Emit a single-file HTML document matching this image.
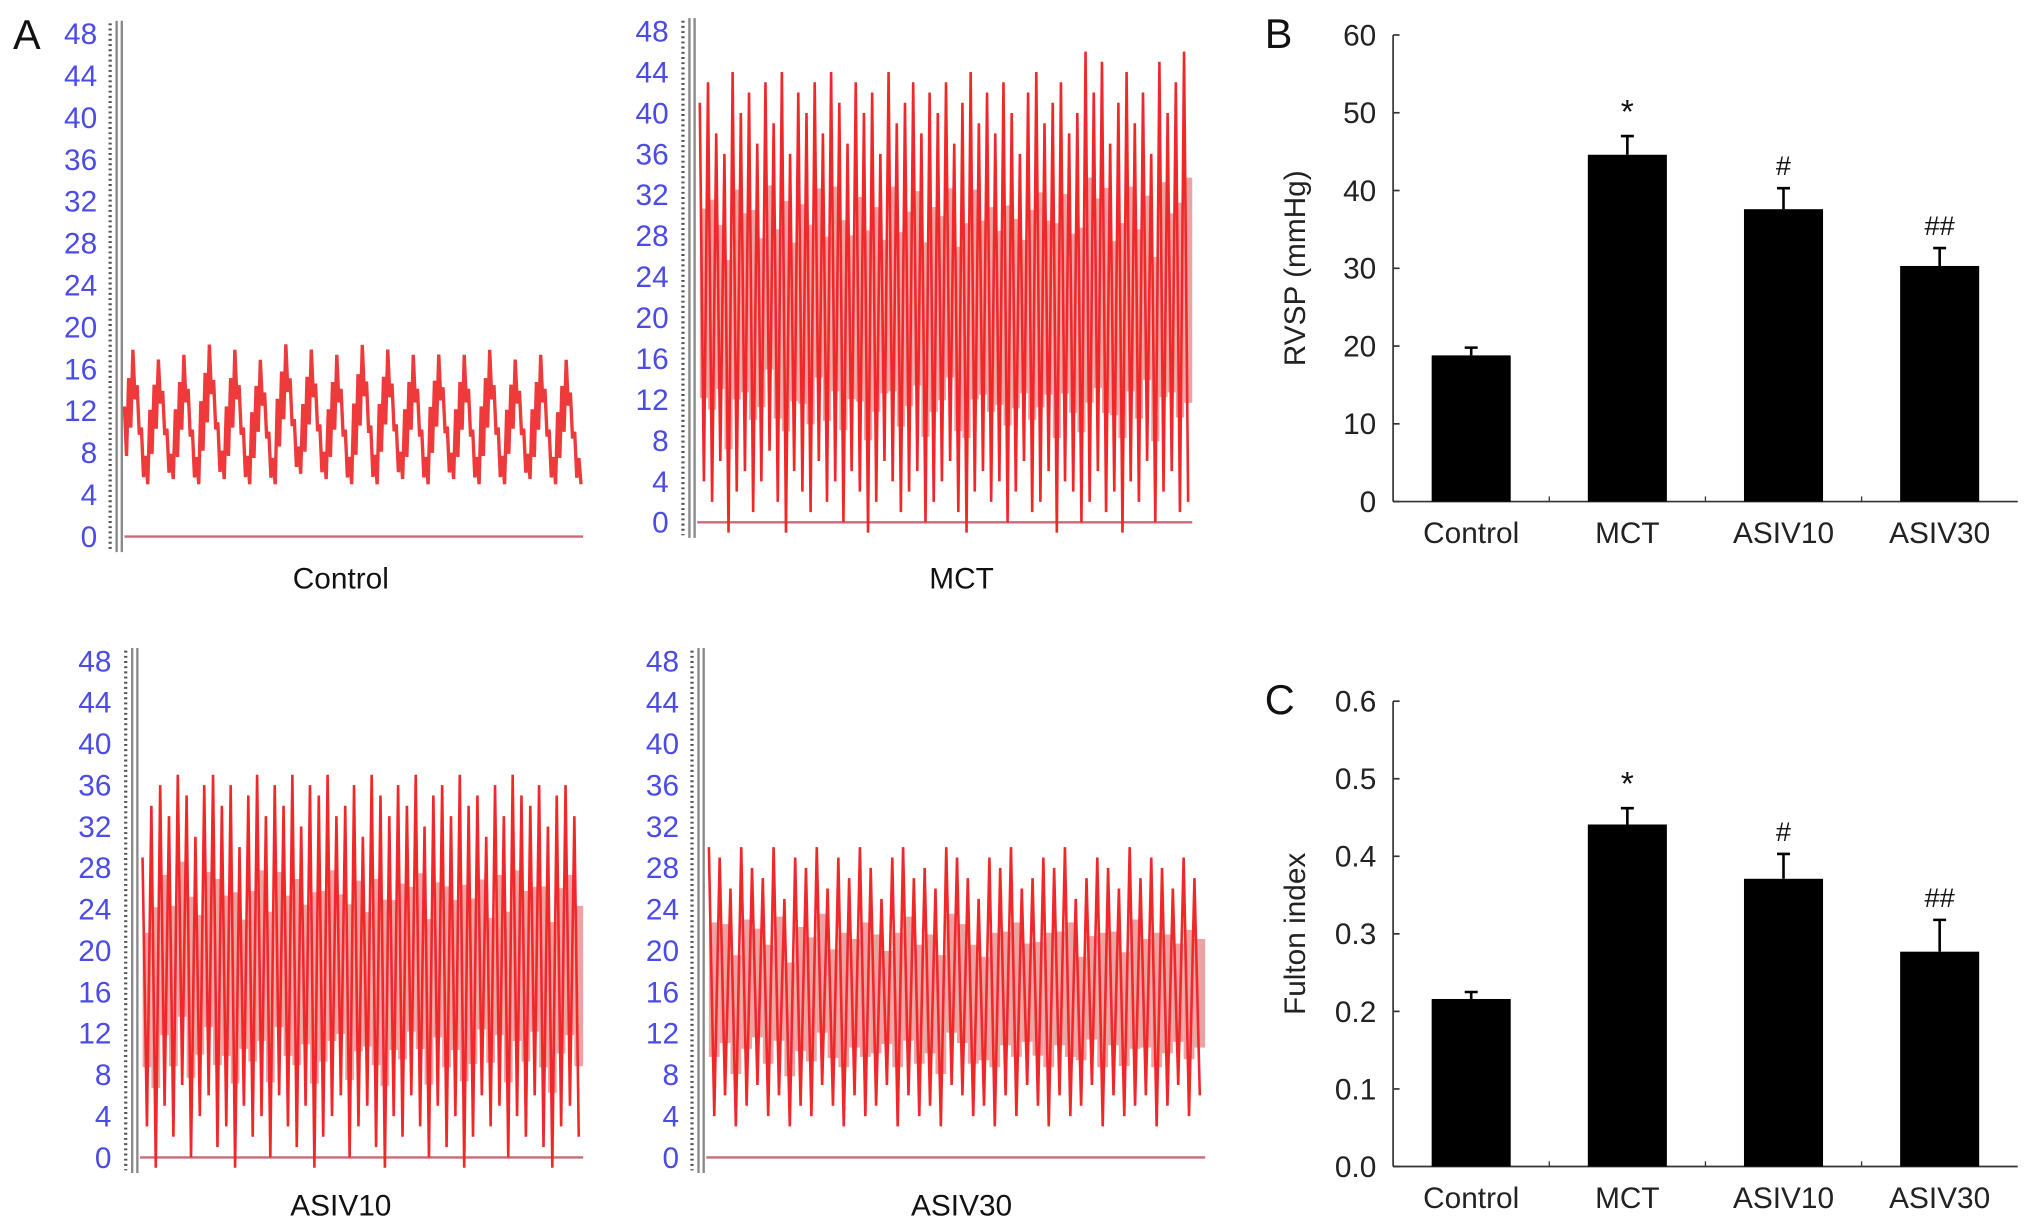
<!DOCTYPE html>
<html><head><meta charset="utf-8"><style>
html,body{margin:0;padding:0;background:#fff}
svg{display:block}
text{font-family:"Liberation Sans",Arial,sans-serif}
</style></head><body>
<svg id="fig" width="2032" height="1230" viewBox="0 0 1568 949" preserveAspectRatio="none" xmlns="http://www.w3.org/2000/svg">
<g id="panelA"></g>
<g id="panelB"></g>
<g id="panelC"></g>
</svg>
<script>
// ---- data: panel A traces (mmHg, per beat systolic/diastolic) ----
const traceTicks = [0,4,8,12,16,20,24,28,32,36,40,44,48];
const controlCycleMax = [18.5,17.5,18,19,18.5,17.5,19,18.5,18,19,18.5,18,18,18,18.5,17.5,18,17.5];
const controlCycleMin = [5,5.5,5,5.5,5,5,6,5.5,5,5,5.5,5,5.5,5,5,5.5,5,5];
const mctHigh = [41,43,38,36,44,40,42,37,43,39,44,36,42,40,43,38,44,41,37,43,40,42,36,44,39,41,43,38,42,40,43,37,41,44,39,42,38,43,40,36,42,44,39,41,43,38,40,46,42,45,37,41,44,39,42,36,45,40,43,46];
const mctLow = [4,2,6,-1,3,5,1,4,7,2,-1,5,3,1,6,2,4,0,5,3,-1,2,6,4,1,3,5,0,2,4,6,1,-1,3,5,2,4,0,3,6,1,2,5,-1,4,3,0,2,5,1,3,-1,4,2,6,0,3,5,1,2];
const a10High = [29,34,36,33,37,35,31,36,37,34,36,30,35,37,33,36,34,37,32,36,35,37,33,34,36,31,37,35,33,36,34,37,32,35,36,33,37,34,35,31,36,33,37,35,34,36,32,35,36,33];
const a10Low = [3,-1,5,2,7,0,4,6,1,3,-1,5,2,4,0,6,3,1,5,-1,2,4,6,0,3,5,1,-1,4,2,6,3,0,5,1,4,-1,2,6,3,5,0,4,2,6,1,-1,3,5,2];
const a30High = [30,29,26,30,28,27,30,25,29,28,30,26,29,27,30,28,25,29,30,27,28,26,30,29,27,25,29,28,30,26,27,29,28,30,25,27,29,28,26,30,27,29,28,26,29,27];
const a30Low = [4,6,3,5,7,4,6,3,5,4,7,5,3,6,4,5,7,3,6,4,5,3,7,6,4,5,3,6,4,7,5,3,6,4,5,7,3,6,4,5,6,3,5,7,4,6];

// ---- data: panel B / C bars ----
const groups = ["Control","MCT","ASIV10","ASIV30"];
const rvspValues = [18.8,44.6,37.6,30.3];
const rvspErrors = [1.0,2.4,2.7,2.3];
const rvspMarks = ["","*","#","##"];
const rvspTicks = [0,10,20,30,40,50,60];
const fultonValues = [0.216,0.441,0.371,0.277];
const fultonErrors = [0.009,0.021,0.032,0.041];
const fultonMarks = ["","*","#","##"];
const fultonTicks = [0,0.1,0.2,0.3,0.4,0.5,0.6];

const NS="http://www.w3.org/2000/svg";
function mk(parent,tag,attrs,txt){const e=document.createElementNS(NS,tag);for(const k in attrs)e.setAttribute(k,attrs[k]);if(txt!==undefined)e.textContent=txt;parent.appendChild(e);return e;}

function tracePanel(name,cfg){
  const A=document.getElementById('panelA');
  const g=mk(A,'g',{});
  
  
  const y=v=>cfg.y0+(v/48)*(cfg.y48-cfg.y0);
  traceTicks.forEach(t=>{
    const tl=mk(g,'text',{x:cfg.labelX,y:y(t)+8,'text-anchor':'end','font-size':23,fill:'#4b4be6'},String(t));
    
    
  });
  const dots=mk(g,'line',{x1:cfg.axisX-6,x2:cfg.axisX-6,y1:y(48)-8,y2:y(0)+10,stroke:'#555','stroke-width':2.5,'stroke-dasharray':'1.5 2.5'});
  
  
  mk(g,'line',{x1:cfg.axisX-1,x2:cfg.axisX-1,y1:y(48)-10,y2:y(0)+12,stroke:'#888','stroke-width':1.8});
  mk(g,'line',{x1:cfg.axisX+3,x2:cfg.axisX+3,y1:y(48)-10,y2:y(0)+12,stroke:'#888','stroke-width':1.8});
  const base=mk(g,'line',{x1:cfg.axisX+5,x2:cfg.x1,y1:y(0),y2:y(0),stroke:'#c86a7a','stroke-width':1.8});
  
  
  const cap=mk(g,'text',{x:cfg.capX,y:cfg.capY,'text-anchor':'middle','font-size':23,fill:'#111'},cfg.caption);
  
  
  return {g,y};
}

function drawBeats(p,cfg,hi,lo){
  const n=hi.length, dx=(cfg.x1-cfg.x0)/n;
  let pts=[];
  for(let i=0;i<n;i++){
    const xa=cfg.x0+i*dx;
    pts.push(xa+','+p.y(hi[i]));
    pts.push((xa+dx*0.5)+','+p.y(lo[i]));
  }
  const mid=mk(p.g,'g',{});
  for(let i=0;i<n;i++){
    const xa=cfg.x0+i*dx;
    const mlo=lo[i]+(hi[i]-lo[i])*0.22, mhi=lo[i]+(hi[i]-lo[i])*0.72;
    mk(mid,'rect',{x:xa,y:p.y(mhi),width:dx,height:p.y(mlo)-p.y(mhi),fill:'#eca3a3'});
  }
  const pl=mk(p.g,'polyline',{points:pts.join(' '),fill:'none',stroke:'#f0282a','stroke-width':2});
  
  
}

function drawControl(p,cfg){
  const n=controlCycleMax.length, cw=(cfg.x1-cfg.x0)/n;
  let pts=[];
  for(let i=0;i<n;i++){
    const mx=controlCycleMax[i], mn=controlCycleMin[i];
    const xa=cfg.x0+i*cw;
    const env=[0.55,0.75,0.95,0.7,0.4,0.2];
    env.forEach((e,k)=>{
      const xb=xa+k*cw/6;
      const top=mn+(mx-mn)*e, bot=top-(mx-mn)*0.35;
      pts.push(xb+','+p.y(top));
      pts.push((xb+cw/12)+','+p.y(Math.max(bot,mn)));
    });
  }
  const pl=mk(p.g,'polyline',{points:pts.join(' '),fill:'none',stroke:'#ee3a3a','stroke-width':2.6});
  
  
}

const cC={labelX:75,axisX:91,x0:96,x1:450,y0:414,y48:26,capX:263,capY:454,caption:'Control'};
const cM={labelX:516,axisX:533,x0:540,x1:920,y0:403,y48:24,capX:742,capY:454,caption:'MCT'};
const c10={labelX:86,axisX:103,x0:110,x1:450,y0:893,y48:510,capX:263,capY:938,caption:'ASIV10'};
const c30={labelX:524,axisX:540,x0:547,x1:930,y0:893,y48:510,capX:742,capY:938,caption:'ASIV30'};
drawControl(tracePanel('control',cC),cC);
drawBeats(tracePanel('mct',cM),cM,mctHigh,mctLow);
drawBeats(tracePanel('asiv10',c10),c10,a10High,a10Low);
drawBeats(tracePanel('asiv30',c30),c30,a30High,a30Low);
const la=mk(document.getElementById('panelA'),'text',{x:10,y:38,'font-size':32,fill:'#111'},'A');



function barChart(gid,cfg,vals,errs,marks,ticks,fmt){
  const g=document.getElementById(gid);
  const y=v=>cfg.y0-(v/cfg.max)*(cfg.y0-cfg.yTop);
  const L=mk(g,'text',{x:cfg.letterX,y:cfg.letterY,'font-size':32,fill:'#111'},cfg.letter);
  
  
  mk(g,'line',{x1:cfg.ax,x2:cfg.ax,y1:cfg.yTop,y2:cfg.y0,stroke:'#333','stroke-width':1.3});
  mk(g,'line',{x1:cfg.ax,x2:cfg.xEnd,y1:cfg.y0,y2:cfg.y0,stroke:'#333','stroke-width':1.3});
  ticks.forEach(t=>{
    mk(g,'line',{x1:cfg.ax,x2:cfg.ax+5,y1:y(t),y2:y(t),stroke:'#333','stroke-width':1.3});
    const tl=mk(g,'text',{x:cfg.ax-13,y:y(t)+8,'text-anchor':'end','font-size':23,fill:'#222'},fmt(t));
    
    
  });
  const slot=(cfg.xEnd-cfg.ax)/groups.length;
  for(let k=1;k<groups.length;k++) mk(g,'line',{x1:cfg.ax+k*slot,x2:cfg.ax+k*slot,y1:cfg.y0,y2:cfg.y0-4,stroke:'#333'});
  const yt=mk(g,'text',{x:0,y:0,'text-anchor':'middle','font-size':23,fill:'#222',transform:`translate(${cfg.ax-68},${(cfg.yTop+cfg.y0)/2}) rotate(-90)`},cfg.title);
  
  
  groups.forEach((name,i)=>{
    const cx=cfg.ax+slot*(i+0.5), bw=61;
    const b=mk(g,'rect',{x:cx-bw/2,y:y(vals[i]),width:bw,height:cfg.y0-y(vals[i]),fill:'#000'});
    
    
    const eT=y(vals[i]+errs[i]);
    const e=mk(g,'path',{d:`M${cx},${y(vals[i])} V${eT} M${cx-5},${eT} H${cx+5}`,stroke:'#000','stroke-width':2,fill:'none'});
    
    
    if(marks[i]){
      const m=mk(g,'text',{x:cx,y:eT-10,'text-anchor':'middle','font-size':marks[i]==='*'?26:21,fill:'#111'},marks[i]);
      
      
    }
    const xl=mk(g,'text',{x:cx,y:cfg.y0+32,'text-anchor':'middle','font-size':23,fill:'#222'},name);
    
    
  });
}
barChart('panelB',{ax:1075,xEnd:1557,y0:387,yTop:27,max:60,letter:'B',letterX:976,letterY:37,title:'RVSP (mmHg)'},rvspValues,rvspErrors,rvspMarks,rvspTicks,t=>String(t));
barChart('panelC',{ax:1075,xEnd:1557,y0:900,yTop:541,max:0.6,letter:'C',letterX:976,letterY:551,title:'Fulton index'},fultonValues,fultonErrors,fultonMarks,fultonTicks,t=>t.toFixed(1));
</script>
</body></html>
